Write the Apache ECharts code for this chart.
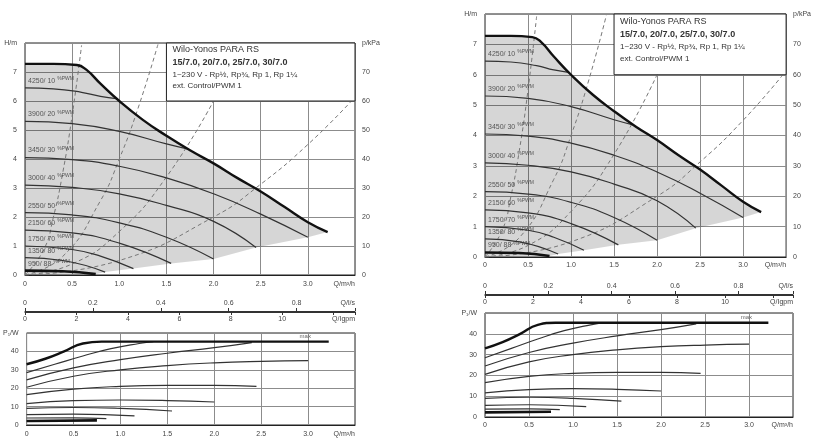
<!DOCTYPE html>
<html><head><meta charset="utf-8">
<script src="https://cdn.jsdelivr.net/npm/echarts@6/dist/echarts.min.js"></script>
<style>html,body{margin:0;padding:0;background:#fff}#c{width:814px;height:438px}</style>
</head><body><div id="c"></div>
<script>
// ---------- data (Q in m³/h, H in m, P in W) ----------
const hqMax = [[0,7.28],[0.3,7.28],[0.55,7.24],[0.65,7.08],[0.8,6.6],[1.0,6.0],[1.25,5.35],[1.5,4.8],[1.75,4.3],[2.0,3.85],[2.25,3.35],[2.5,2.88],[2.75,2.35],[3.0,1.82],[3.21,1.48]];
const hqSpeeds = [
  [[0,6.45],[0.3,6.42],[0.6,6.3],[0.8,6.16],[0.97,6.08]],
  [[0,5.3],[0.5,5.22],[1.0,4.95],[1.5,4.52],[1.72,4.35]],
  [[0,4.05],[0.5,3.98],[1.0,3.75],[1.5,3.35],[2.0,2.8],[2.5,2.1],[3.0,1.3]],
  [[0,3.1],[0.5,3.02],[1.0,2.8],[1.5,2.4],[2.0,1.85],[2.45,0.95]],
  [[0,2.15],[0.5,2.07],[1.0,1.8],[1.5,1.3],[2.0,0.55]],
  [[0,1.55],[0.5,1.45],[1.0,1.1],[1.55,0.4]],
  [[0,1.0],[0.5,0.88],[0.8,0.65],[1.15,0.22]],
  [[0,0.6],[0.4,0.5],[0.85,0.1]]
];
const hqMin = [[0,0.15],[0.4,0.13],[0.75,0.03]];
const shadeLower = [[3.0,1.3],[2.45,0.95],[2.0,0.55],[1.55,0.4],[1.15,0.22],[0.85,0.1],[0.75,0.03],[0,0]];
const speedLabels = ['4250/ 10','3900/ 20','3450/ 30','3000/ 40','2550/ 50','2150/ 60','1750/ 70','1350/ 80','950/ 88'];
const systemCurves = [
  [[0,0],[0.2,0.88],[0.3,1.98],[0.4,3.52],[0.5,5.5],[0.6,7.92]],
  [[0,0],[0.4,0.64],[0.8,2.56],[1.0,4.0],[1.2,5.76],[1.41,7.95]],
  [[0,0],[0.5,0.38],[1.0,1.5],[1.5,3.38],[2.0,6.0]],
  [[0,0],[1.0,0.5],[2.0,2.0],[2.5,3.13],[3.0,4.5],[3.46,5.99]]
];
const pqMax = [[0,33],[0.2,36],[0.4,40],[0.6,44.3],[0.8,45.3],[3.22,45.3]];
const pqSpeeds = [
  [[0,28.5],[0.3,33],[0.6,37.5],[0.9,41.5],[1.2,44.3],[1.35,45.3]],
  [[0,24.5],[0.5,31],[1.0,35.5],[1.5,39],[2.0,42],[2.4,44.8]],
  [[0,20.5],[0.5,26.5],[1.0,30],[1.5,32.3],[2.0,33.8],[2.5,34.6],[3.0,35]],
  [[0,16.5],[0.5,19.5],[1.0,21],[1.5,21.5],[2.0,21.5],[2.45,21]],
  [[0,11.6],[0.5,13.2],[1.0,13.6],[1.5,13.3],[2.0,12.5]],
  [[0,9],[0.5,9.5],[1.0,9],[1.55,7.6]],
  [[0,5.6],[0.5,5.9],[1.15,5]],
  [[0,3.8],[0.5,3.9],[0.85,3.5]]
];
const pqMin = [[0,2.2],[0.75,2.5]];
const maxLabelPoint = [2.97,45.3];
const boxLines = ['Wilo-Yonos PARA RS','15/7.0, 20/7.0, 25/7.0, 30/7.0','1~230 V - Rp½, Rp¾, Rp 1, Rp 1¼','ext. Control/PWM 1'];
const qUnit = 'Q/m³/h', lpsUnit = 'Q/l/s', gpmUnit = 'Q/Igpm', hUnit = 'H/m', pUnit = 'p/kPa', powUnit = 'P₁/W';

// ---------- layout ----------
const FONT = '"Liberation Sans", "DejaVu Sans", sans-serif';
const legendBox = {q0:1.5, q1:3.5, h0:6, h1:8};
const layouts = [
  {top:{left:25,top:43,width:330,height:232}, scale:{left:25,top:311,width:330,height:1}, bottom:{left:25,top:333,width:330,height:98}, m:6},
  {top:{left:485,top:14,width:308,height:243}, scale:{left:485,top:294,width:308,height:1}, bottom:{left:485,top:313,width:308,height:104}, m:5}
];
const Q_MAX = 3.5, LPS = 3.6, IGPM = 0.2728;
const lab = (extra) => Object.assign({fontSize:7, color:'#444', fontFamily:FONT}, extra);
const grid=[], xAxis=[], yAxis=[], series=[];

layouts.forEach(L => {
  const g0 = grid.length, x0 = xAxis.length, y0 = yAxis.length;
  grid.push(Object.assign({show:true, borderColor:'#222', borderWidth:1}, L.top));
  grid.push(Object.assign({show:false}, L.scale));
  grid.push(Object.assign({show:true, borderColor:'#222', borderWidth:1}, L.bottom));
  const qAxis = gi => ({gridIndex:gi, type:'value', min:0, max:Q_MAX, interval:0.5,
    axisLine:{show:true, onZero:false, lineStyle:{color:'#222'}}, axisTick:{show:false},
    splitLine:{show:true, lineStyle:{color:'#8c8c8c', width:1}},
    axisLabel:lab({margin:L.m, alignMaxLabel:'right', formatter:v => v>=Q_MAX ? qUnit : (v===0?'0':v.toFixed(1))})});
  xAxis.push(qAxis(g0));
  xAxis.push({gridIndex:g0+1, type:'value', position:'top', min:0, max:Q_MAX/LPS, interval:0.2,
    axisLine:{show:true, onZero:false, lineStyle:{color:'#333', width:1}}, axisTick:{show:true, length:3, lineStyle:{color:'#333'}},
    splitLine:{show:false}, axisLabel:lab({margin:4, alignMaxLabel:'right', formatter:v => v>0.9 ? lpsUnit : (v===0?'0':v.toFixed(1))})});
  xAxis.push({gridIndex:g0+1, type:'value', position:'bottom', min:0, max:Q_MAX/IGPM, interval:2,
    axisLine:{show:true, onZero:false, lineStyle:{color:'#333', width:1}}, axisTick:{show:true, length:3, lineStyle:{color:'#333'}},
    splitLine:{show:false}, axisLabel:lab({margin:4, alignMaxLabel:'right', formatter:v => v>12.5 ? gpmUnit : (v===12?'':String(v))})});
  xAxis.push(qAxis(g0+2));
  yAxis.push({gridIndex:g0, type:'value', min:0, max:8, interval:1,
    axisLine:{show:false}, axisTick:{show:false}, splitLine:{show:true, lineStyle:{color:'#8c8c8c'}},
    axisLabel:lab({margin:8, formatter:v => v===8 ? hUnit : String(v)})});
  yAxis.push({gridIndex:g0, type:'value', position:'right', min:0, max:80, interval:10,
    axisLine:{show:false}, axisTick:{show:false}, splitLine:{show:false},
    axisLabel:lab({margin:7, formatter:v => v===80 ? pUnit : String(v)})});
  yAxis.push({gridIndex:g0+1, type:'value', show:false, min:0, max:1});
  yAxis.push({gridIndex:g0+2, type:'value', min:0, max:50, interval:10,
    axisLine:{show:false}, axisTick:{show:false}, splitLine:{show:true, lineStyle:{color:'#8c8c8c'}},
    axisLabel:lab({margin:8, formatter:v => v===50 ? powUnit : String(v)})});

  const T = {xAxisIndex:x0, yAxisIndex:y0};
  const B = {xAxisIndex:x0+3, yAxisIndex:y0+3};
  // shaded working range
  series.push(Object.assign({type:'custom', silent:true, z:1, data:[[0,0]],
    renderItem:(p, api) => ({type:'polygon', shape:{points: hqMax.concat(shadeLower).map(pt => api.coord(pt))}, style:{fill:'rgba(0,0,0,0.16)'}})}, T));
  systemCurves.forEach(c => series.push(Object.assign({type:'line', data:c, smooth:true, showSymbol:false, silent:true, z:2,
    lineStyle:{color:'#777', width:1, type:[4,3]}}, T)));
  hqSpeeds.forEach(c => series.push(Object.assign({type:'line', data:c, smooth:true, showSymbol:false, silent:true, z:3,
    lineStyle:{color:'#333', width:1.2}}, T)));
  series.push(Object.assign({type:'line', data:hqMin, smooth:true, showSymbol:false, z:4, lineStyle:{color:'#111', width:2.6}}, T));
  series.push(Object.assign({type:'line', data:hqMax, smooth:true, showSymbol:false, z:4, lineStyle:{color:'#111', width:2.4}}, T));
  series.push(Object.assign({type:'scatter', symbolSize:0, z:5, silent:true,
    data: hqSpeeds.map(c => c[0]).concat([hqMin[0]]),
    label:{show:true, position:'right', distance:3, offset:[0,-7],
      formatter: p => '{a|' + speedLabels[p.dataIndex] + '}{b|%PWM}',
      rich:{a:{fontSize:7, color:'#333', fontFamily:FONT}, b:{fontSize:5, color:'#333', fontFamily:FONT, verticalAlign:'top', padding:[0,0,4,2]}}}}, T));
  series.push(Object.assign({type:'custom', silent:true, z:6, data:[[0,0]],
    renderItem:(p, api) => {
      const a = api.coord([legendBox.q0, legendBox.h1]);
      const b = api.coord([legendBox.q1, legendBox.h0]);
      const h = b[1]-a[1];
      const fr = [0.12,0.33,0.54,0.74];
      const fonts = ['9px '+FONT, 'bold 9px '+FONT, '8px '+FONT, '8px '+FONT];
      const ch = [{type:'rect', shape:{x:a[0], y:a[1], width:b[0]-a[0], height:h}, style:{fill:'#fff', stroke:'#222', lineWidth:1}}];
      boxLines.forEach((t,i) => ch.push({type:'text', x:a[0]+6, y:a[1]+h*fr[i], style:{text:t, font:fonts[i], fill:'#333', verticalAlign:'middle'}}));
      return {type:'group', children:ch};
    }}, T));
  // power curves
  pqSpeeds.forEach(c => series.push(Object.assign({type:'line', data:c, smooth:true, showSymbol:false, silent:true, z:3,
    lineStyle:{color:'#333', width:1.2}}, B)));
  series.push(Object.assign({type:'line', data:pqMin, smooth:true, showSymbol:false, z:4, lineStyle:{color:'#111', width:2.6}}, B));
  series.push(Object.assign({type:'line', data:pqMax, smooth:true, showSymbol:false, z:4, lineStyle:{color:'#111', width:2.4},
    markPoint:{symbol:'circle', symbolSize:0, data:[{coord:maxLabelPoint}],
      label:{show:true, position:'top', distance:2, formatter:'max', fontSize:6, color:'#666', fontFamily:FONT}}}, B));
});

const chart = echarts.init(document.getElementById('c'), null, {renderer:'canvas'});
chart.setOption({animation:false, backgroundColor:'#fff', grid, xAxis, yAxis, series});
</script></body></html>
